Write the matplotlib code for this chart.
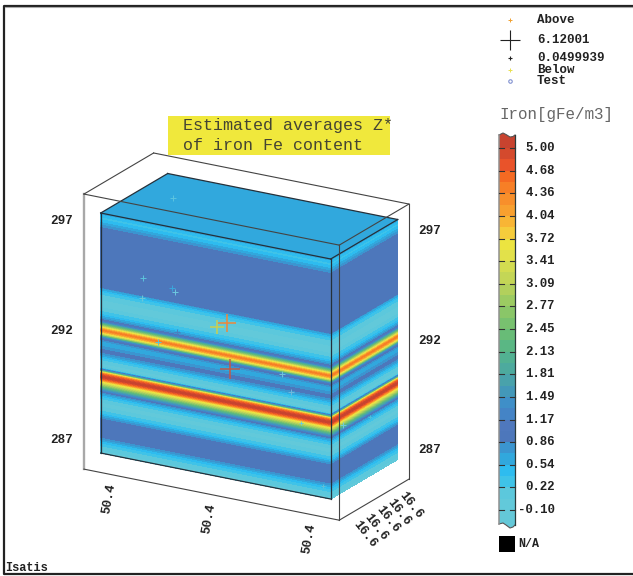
import numpy as np
import matplotlib
matplotlib.use('Agg')
from matplotlib import pyplot as plt
from matplotlib.colors import ListedColormap, BoundaryNorm

#Data
elev = [297.40, 297.17, 296.99, 296.85, 296.67, 294.02, 293.98, 293.88, 293.79, 293.61,
        293.34, 293.15, 292.97, 292.79, 292.65, 292.51, 292.42, 292.29, 292.15, 292.06,
        291.97, 291.87, 291.78, 291.69, 291.56, 291.42, 291.28, 291.10, 290.96, 290.82,
        290.64, 290.41, 290.32, 290.26, 290.20, 290.13, 290.05, 289.93, 289.83, 289.72,
        289.55, 289.41, 289.27, 289.18, 289.04, 288.86, 288.63, 288.41, 288.22, 288.08,
        287.95, 287.22, 287.08, 286.99, 286.85, 286.67, 286.44]
iron = [0.6, 0.3, 0.5, 0.7, 0.95, 0.95, 0.7, 0.5, 0.3, 0.15,
        0.0, 0.0, 0.15, 0.35, 0.6, 0.95, 1.3, 2.5, 3.8, 4.4,
        3.9, 2.9, 1.5, 1.0, 0.7, 0.55, 0.75, 0.95, 0.7, 0.4,
        0.1, 0.0, 0.2, 0.9, 2.0, 3.7, 4.6, 5.1, 4.6, 3.7,
        2.7, 1.8, 1.0, 0.7, 0.4, 0.1, 0.0, 0.15, 0.4, 0.7,
        0.95, 0.95, 0.7, 0.5, 0.3, 0.1, 0.0]
top_iron = 0.6

levels = [-0.26, -0.10, 0.06, 0.22, 0.38, 0.54, 0.70, 0.86, 1.01, 1.17, 1.33, 1.49,
          1.65, 1.81, 1.97, 2.13, 2.29, 2.45, 2.61, 2.77, 2.93, 3.09, 3.25, 3.41,
          3.57, 3.72, 3.88, 4.04, 4.20, 4.36, 4.52, 4.68, 4.84, 5.00, 5.16]
band_colors = ['#64c8d8', '#62c9da', '#5cc8dc', '#3fc3e8', '#2ebcef', '#31a8dd', '#3b95d0',
               '#4d77bb', '#4f78bd', '#4484c6', '#3f8fc8', '#4398b9', '#49a2ab', '#4daa9e',
               '#52b192', '#5ab784', '#68bc77', '#78c16f', '#8ac668', '#9ccb62', '#b2d05c',
               '#c4d656', '#d3dc50', '#e2e14a', '#ece440', '#f5cc3c', '#f8b535', '#f8a02f',
               '#f88f2b', '#f77f26', '#f56a22', '#e9532a', '#d44a2d', '#c8432f']
bar_ticks = ['5.00', '4.68', '4.36', '4.04', '3.72', '3.41', '3.09', '2.77', '2.45',
             '2.13', '1.81', '1.49', '1.17', '0.86', '0.54', '0.22', '-0.10']

#samples: position along the box, depth into the box, elevation
pt_u = [0.549, 0.506, 0.562, 0.184, 0.31, 0.323, 0.18, 0.332, 0.249, 0.788, 0.827, 0.871, 0.967, 1.0, 1.0, 0.152]
pt_v = [0, 0, 0, 0, 0, 0, 0, 0, 0, 0, 0, 0, 0, 0.179, 0.582, 0.557]
pt_e = [293.53, 293.26, 291.46, 294.82, 294.63, 294.47, 293.9, 292.66, 292.03, 291.71,
        290.96, 289.64, 286.97, 289.5, 289.14, 297.4]
pt_size = [13, 10.5, 14.5, 4, 5, 5, 4, 5, 4, 4, 4, 3.5, 3.5, 4, 3.5, 5]
pt_color = ['#f0873a', '#c8d050', '#c05a48', '#5cc4dc', '#3aa6dc', '#6cc8e0', '#6cc8d8', '#4a80c0',
            '#5cc4d8', '#70c4dc', '#70b8dc', '#70ccd8', '#60c0d8', '#70ccd8', '#50c0d8', '#5cc4e0']

elev_ticks = [297, 292, 287]
x_ticks = ['50.4', '50.4', '50.4']
y_ticks = ['16.6', '16.6', '16.6', '16.6', '16.6']
legend_labels = ['Above', '6.12001', '0.0499939', 'Below', 'Test']
#Data


def proj(u, v, e):
    u, v, e = np.broadcast_arrays(np.asarray(u, float), np.asarray(v, float), np.asarray(e, float))
    return 100.7 + 230 * u + 67 * v, 213 + 46 * u - 39.5 * v + (297.4 - e) * 21.9


def bar_y(val):
    return 148 + (5 - val) * 70.98


fig = plt.figure(figsize=(6.33, 5.76), dpi=100)
ax = fig.add_axes([0, 0, 1, 1])
ax.set_xlim(0, 633)
ax.set_ylim(576, 0)
ax.axis('off')

#Frame
ax.plot([633, 3.5, 3.5, 633], [5.5, 5.5, 574, 574], color='#222222', lw=1.6)
ax.plot([633, 5], [7, 7], color='#aaaaaa', lw=0.8)
ax.text(5, 568, 'Isatis', family='Liberation Mono', weight='bold', fontsize=8.6, va='center', color='#222222')

#Block faces
elev = np.array(elev)
order = np.argsort(elev)
z = np.array(iron)[order]
e_sorted = elev[order]
Z = np.clip(np.column_stack([z, z]), -0.2, 5.1)
kw = dict(levels=levels, colors=band_colors, extend='neither', antialiased=False)

X, Y = proj(np.array([[0, 1]]), 0, e_sorted[:, None])
ax.contourf(X, Y, Z, zorder=2, **kw)
X, Y = proj(1, np.array([[0, 1]]), e_sorted[:, None])
ax.contourf(X, Y, Z, zorder=2, **kw)
top_x, top_y = proj([0, 1, 1, 0], [0, 0, 1, 1], elev[0])
top_band = np.searchsorted(levels, top_iron) - 1
ax.fill(top_x, top_y, color=band_colors[top_band], zorder=2, lw=0)

#Block outline
edges = [((0, 0), (1, 0)), ((1, 0), (1, 1)), ((1, 1), (0, 1)), ((0, 1), (0, 0))]
for a, b in edges:
    x, y = proj([a[0], b[0]], [a[1], b[1]], elev[0])
    ax.plot(x, y, color='#25303a', lw=0.9, zorder=3)
for u, v in [(0, 0), (1, 0)]:
    x, y = proj([u, u], [v, v], [elev[0], elev[-1]])
    ax.plot(x, y, color='#25303a', lw=0.9, zorder=3)
x, y = proj([0, 1], [0, 0], elev[-1])
ax.plot(x, y, color='#25303a', lw=0.9, zorder=3)

#Samples
px, py = proj(pt_u, pt_v, pt_e)
for i in range(len(pt_size)):
    ax.plot(px[i], py[i], '+', color=pt_color[i], ms=pt_size[i], mew=1.1 if pt_size[i] > 10 else 0.7, zorder=4)

#Outer box
u0, u1, v0, v1, e_hi, e_lo = -0.067, 1.043, -0.02, 1.02, 298.16, 285.6
for a, b in [((u0, v0, e_hi), (u1, v0, e_hi)), ((u0, v1, e_hi), (u1, v1, e_hi)),
             ((u0, v0, e_hi), (u0, v1, e_hi)), ((u1, v0, e_hi), (u1, v1, e_hi)),
             ((u0, v0, e_lo), (u1, v0, e_lo)), ((u1, v0, e_lo), (u1, v1, e_lo)),
             ((u1, v0, e_hi), (u1, v0, e_lo)), ((u1, v1, e_hi), (u1, v1, e_lo))]:
    x, y = proj([a[0], b[0]], [a[1], b[1]], [a[2], b[2]])
    ax.plot(x, y, color='#444444', lw=0.8, zorder=5)
x, y = proj([u0, u0], [v0, v0], [e_hi, e_lo])
ax.plot(x, y, color='#a8a8a8', lw=1.7, zorder=1)

#Axis labels
for e in elev_ticks:
    x, y = proj(u0, v0, e)
    ax.text(x - 22, y + 2, str(e), family='Liberation Mono', weight='bold', fontsize=9.1,
            ha='center', va='center', color='#222222')
    x, y = proj(u1, v1, e)
    ax.text(x + 21, y + 2, str(e), family='Liberation Mono', weight='bold', fontsize=9.1,
            ha='center', va='center', color='#222222')
for i, lab in enumerate(x_ticks):
    x, y = proj(u0 + 0.1 + i * 0.435, v0, e_lo)
    ax.text(x + 2, y + 24.5, lab, family='Liberation Mono', weight='bold', fontsize=9.1, rotation=80,
            ha='center', va='center', color='#222222')
for i, lab in enumerate(y_ticks):
    x, y = proj(u1, v1 - 0.2 - i * 0.19, e_lo)
    ax.text(x + 15.5 + i * 1.1, y + 18 - i * 0.2, lab, family='Liberation Mono', weight='bold', fontsize=9.1,
            rotation=-52, ha='center', va='center', color='#222222')

#Title
ax.fill([168, 390, 390, 168], [116, 116, 155, 155], color='#f0e83c', lw=0)
ax.text(183, 125.5, 'Estimated averages Z*', family='Liberation Mono', fontsize=12, va='center', color='#444433')
ax.text(183, 145, 'of iron Fe content', family='Liberation Mono', fontsize=12, va='center', color='#444433')

#Legend
leg_y = [20, 40, 58, 70, 81]
ax.plot(510, leg_y[0], '+', color='#f0a030', ms=3, mew=0.7)
ax.plot(510, leg_y[1], '+', color='#222222', ms=15, mew=0.8)
ax.plot(510, leg_y[2], '+', color='#222222', ms=3, mew=0.8)
ax.plot(510, leg_y[3], '+', color='#e8e050', ms=3, mew=0.7)
ax.plot(510, leg_y[4], 'o', mfc='none', mec='#8090d0', ms=2.5, mew=0.8)
for lab, y in zip(legend_labels, leg_y):
    ax.text(537, y, lab, family='Liberation Mono', weight='bold', fontsize=9, va='center', color='#222222')

#Colorbar
ax.text(499, 115, 'Iron[gFe/m3]', family='Liberation Mono', fontsize=11.4, va='center', color='#666666')
cmap = ListedColormap(band_colors)
norm = BoundaryNorm(levels, cmap.N)
edges_y = bar_y(np.array(levels))
mid_vals = np.array(levels[:-1])[:, None] + 0.01
ax.pcolormesh([499, 515], edges_y, mid_vals, cmap=cmap, norm=norm, shading='flat', zorder=2)
ax.fill([499, 515, 515, 499], [edges_y[-1], edges_y[-1], 133, 133], color=band_colors[-1], lw=0, zorder=2)
ax.fill([499, 515, 515, 499], [edges_y[0], edges_y[0], 530, 530], color=band_colors[0], lw=0, zorder=2)
wave_x = [499, 503, 506, 510, 513, 515]
wave_top = [135, 133, 134.5, 137, 136.5, 135]
wave_bot = [524, 523, 525, 528, 527, 525]
ax.fill(wave_x + [515, 499], wave_top + [130, 130], color='white', lw=0, zorder=3)
ax.fill(wave_x + [515, 499], wave_bot + [533, 533], color='white', lw=0, zorder=3)
ax.plot(wave_x, wave_top, color='#555555', lw=0.8, zorder=4)
ax.plot(wave_x, wave_bot, color='#555555', lw=0.8, zorder=4)
ax.plot([499, 499], [135, 524], color='#909090', lw=1.1, zorder=4)
ax.plot([515, 515], [135, 525], color='#2a3a3a', lw=0.9, zorder=4)
for lab in bar_ticks:
    y = bar_y(float(lab))
    ax.plot([499, 504], [y, y], color='#333333', lw=0.8, zorder=4)
    ax.plot([510, 515], [y, y], color='#333333', lw=0.8, zorder=4)
    ax.text(555, y, lab, family='Liberation Mono', weight='bold', fontsize=8.9, ha='right', va='center', color='#222222')
ax.fill([499, 515, 515, 499], [536, 536, 552, 552], color='black', lw=0)
ax.text(518, 544, 'N/A', family='Liberation Mono', weight='bold', fontsize=8.4, va='center', color='#222222')

fig.savefig('out.png', dpi=100)
